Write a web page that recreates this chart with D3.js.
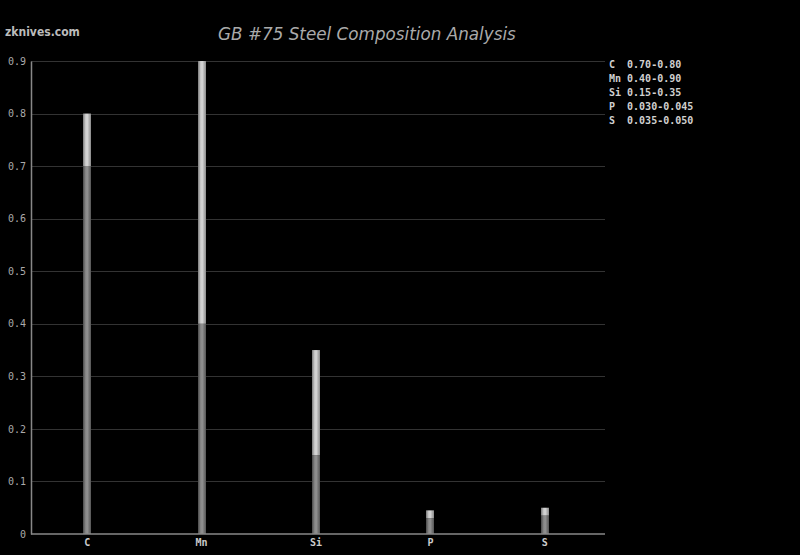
<!DOCTYPE html>
<html><head><meta charset="utf-8">
<script src="https://cdn.jsdelivr.net/npm/d3@7"></script>
<style>body{margin:0;background:#000;}svg{display:block;}</style>
</head><body>
<svg id="c" width="800" height="555"></svg>
<script>
const elements = ["C", "Mn", "Si", "P", "S"];
const minValues = [0.70, 0.40, 0.15, 0.030, 0.035];
const maxValues = [0.80, 0.90, 0.35, 0.045, 0.050];
const legendLabels = ["C  0.70-0.80", "Mn 0.40-0.90", "Si 0.15-0.35", "P  0.030-0.045", "S  0.035-0.050"];
const yTicks = [0, 0.1, 0.2, 0.3, 0.4, 0.5, 0.6, 0.7, 0.8, 0.9];

const svg = d3.select("#c");
svg.append("rect").attr("width", 800).attr("height", 555).attr("fill", "#000");

const m = {l: 31, r: 605, t: 61, b: 534};
const x = d3.scaleBand().domain(elements).range([30, 602]);
const y = d3.scaleLinear().domain([0, 0.9]).range([m.b, m.t]);

const defs = svg.append("defs");
function grad(id, stops) {
  const g = defs.append("linearGradient").attr("id", id).attr("x1", "0").attr("x2", "1").attr("y1", "0").attr("y2", "0");
  stops.forEach(s => g.append("stop").attr("offset", s[0]).attr("stop-color", s[1]));
}
grad("gLow", [[0, "#4a4a4a"], [0.35, "#8a8a8a"], [0.55, "#909090"], [1, "#555"]]);
grad("gHigh", [[0, "#7a7a7a"], [0.35, "#cfcfcf"], [0.55, "#d4d4d4"], [1, "#8a8a8a"]]);

// grid
svg.append("g").selectAll("line").data(yTicks.filter(d => d > 0)).join("line")
  .attr("x1", m.l).attr("x2", m.r)
  .attr("y1", d => Math.round(y(d)) + 0.5).attr("y2", d => Math.round(y(d)) + 0.5)
  .attr("stroke", "#333").attr("stroke-width", 1);

// bars
const bw = 8;
const data = elements.map((e, i) => ({e, lo: minValues[i], hi: maxValues[i]}));
const bars = svg.append("g");
bars.selectAll("rect.lo").data(data).join("rect").attr("class", "lo")
  .attr("x", d => Math.round(x(d.e) + x.bandwidth() / 2 - bw / 2)).attr("width", bw)
  .attr("y", d => y(d.lo)).attr("height", d => y(0) - y(d.lo))
  .attr("fill", "url(#gLow)");
bars.selectAll("rect.hi").data(data).join("rect").attr("class", "hi")
  .attr("x", d => Math.round(x(d.e) + x.bandwidth() / 2 - bw / 2)).attr("width", bw)
  .attr("y", d => y(d.hi)).attr("height", d => y(d.lo) - y(d.hi))
  .attr("fill", "url(#gHigh)");

// axes
const yAxis = d3.axisLeft(y).tickValues(yTicks).tickSize(0).tickPadding(5)
  .tickFormat(d => d === 0 ? "0" : d3.format(".1f")(d));
const ya = svg.append("g").attr("transform", `translate(${m.l},0)`).call(yAxis);
ya.select(".domain").attr("stroke", "#888").attr("stroke-width", 1.5);
ya.selectAll("text").attr("fill", "#aaa").attr("font-family", "DejaVu Sans Mono").attr("font-size", 10);

const xAxis = d3.axisBottom(x).tickSize(0).tickPadding(5);
const xa = svg.append("g").attr("transform", `translate(0,${m.b})`).call(xAxis);
xa.select(".domain").attr("stroke", "#888").attr("stroke-width", 1.5).attr("d", `M${m.l},0H${m.r}`);
xa.selectAll("text").attr("fill", "#ccc").attr("font-family", "DejaVu Sans Mono").attr("font-size", 10).attr("font-weight", "bold");

// title
svg.append("text").attr("x", 367).attr("y", 40).attr("text-anchor", "middle")
  .attr("font-family", "DejaVu Sans").attr("font-style", "italic").attr("font-size", 16.8)
  .attr("fill", "#aaa").text("GB #75 Steel Composition Analysis");

svg.append("text").attr("x", 5).attr("y", 36)
  .attr("font-family", "DejaVu Sans Condensed, DejaVu Sans").attr("font-weight", "bold").attr("font-size", 12)
  .attr("fill", "#bbb").text("zknives.com");

// legend
svg.append("g").selectAll("text").data(legendLabels).join("text")
  .attr("x", 609).attr("y", (d, i) => 68 + i * 14)
  .attr("font-family", "DejaVu Sans Mono").attr("font-size", 10).attr("font-weight", "bold")
  .attr("fill", "#d0d0d0").attr("xml:space", "preserve").style("white-space", "pre").text(d => d);
</script>
</body></html>
